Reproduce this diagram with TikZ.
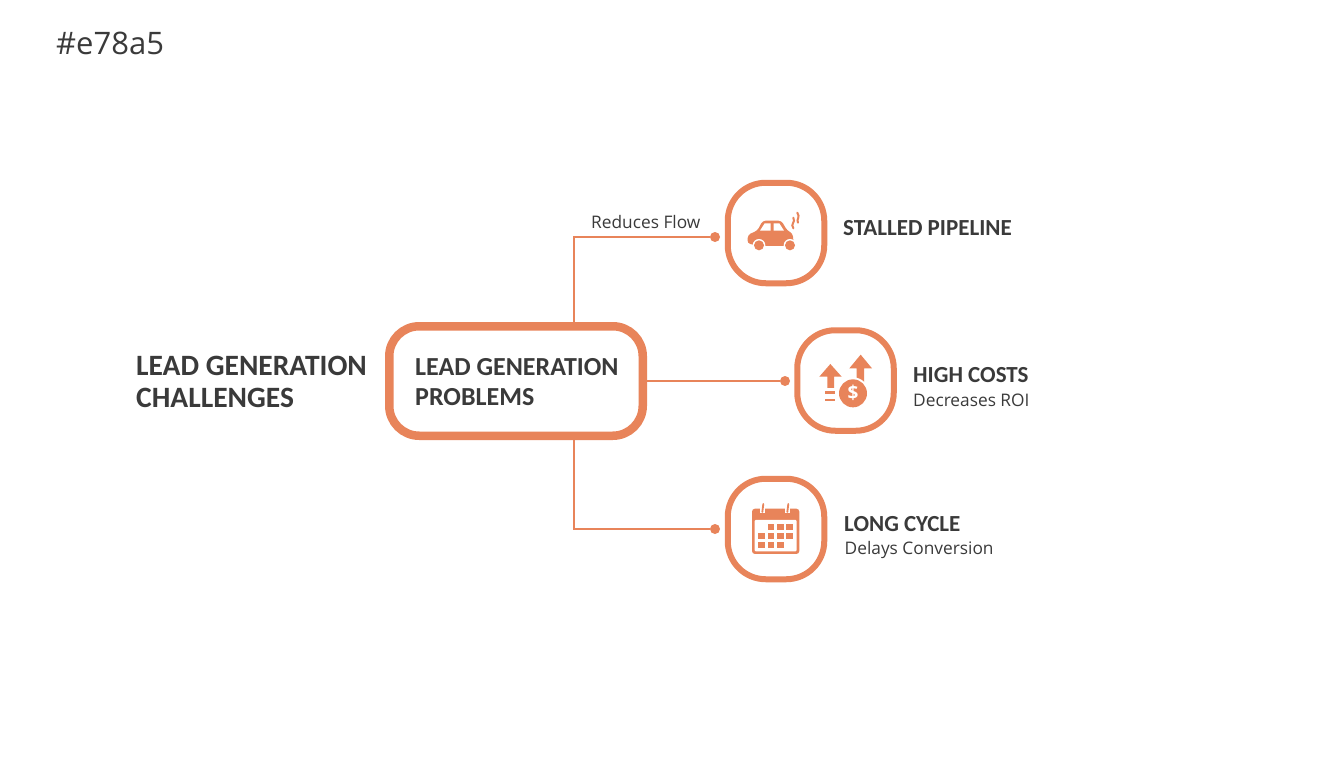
\documentclass[tikz,border=0pt]{standalone}
\usepackage{fontspec}
\setmainfont{Open Sans}
\newfontfamily\boldC{Carlito Bold}
\definecolor{acc}{HTML}{E8845A}
\definecolor{ink}{HTML}{3A3A3A}
\tikzset{
  x=1pt,y=-1pt,
  mainbox/.style={draw=acc,line width=8.5pt,rounded corners=30pt,minimum width=253.5pt,minimum height=109.5pt,fill=white},
  iconbox/.style={draw=acc,line width=6pt,rounded corners=38pt,minimum width=96.5pt,minimum height=100.5pt,fill=white},
  conn/.style={draw=acc,line width=2.6pt},
  enddot/.style={circle,fill=acc,inner sep=0pt,minimum size=10pt},
  head/.style={text=ink,font=\boldC\fontsize{29.5}{32}\selectfont,anchor=west,align=left,inner sep=0pt},
  headm/.style={text=ink,font=\boldC\fontsize{26}{30}\selectfont,anchor=west,align=left,inner sep=0pt},
  title/.style={text=ink,font=\boldC\fontsize{23}{24}\selectfont,anchor=west,inner sep=0pt},
  sub/.style={text=ink,font=\fontsize{17.3}{21}\selectfont,anchor=west,inner sep=0pt},
  ico/.style={x=0.3333pt,y=-0.3333pt},
}
\begin{document}
\begin{tikzpicture}
\useasboundingbox (0,0) rectangle (1344,768);
\fill[white] (0,0) rectangle (1344,768);
\node[text=ink,font=\fontsize{31}{38}\selectfont,anchor=west,inner sep=0pt] (code) at (56,43) {\#e78a5};

\coordinate (jx) at (574,381);
\node[enddot] (d1) at (715,237) {};
\node[enddot] (d2) at (785,381) {};
\node[enddot] (d3) at (715,529) {};
\node[mainbox] (main) at (516,381) {};
\draw[conn] (main.north -| jx) |- (d1);
\draw[conn] (main.east) -- (d2);
\draw[conn] (main.south -| jx) |- (d3);

\node[iconbox] (b1) at (776,233) {};
\node[iconbox] (b2) at (845.5,380.5) {};
\node[iconbox] (b3) at (776,529) {};

\node[head] (lh) at (136,382) {LEAD GENERATION\\CHALLENGES};
\node[headm] (mt) at (415,382) {LEAD GENERATION\\PROBLEMS};
\node[sub] (rf) at (591,222) {Reduces Flow};
\node[title] (t1) at (843,228) {STALLED PIPELINE};
\node[title] (t2) at (913,375) {HIGH COSTS};
\node[sub] (s2) at (913,400) {Decreases ROI};
\node[title] (t3) at (844,524) {LONG CYCLE};
\node[sub] (s3) at (844.5,550.5) {Delays Conversion};

% car
\begin{scope}[shift={(710,170)},ico]
\fill[acc,rounded corners=3pt] (112,220) -- (114,194) -- (142,182) -- (158,152) -- (214,152) -- (232,182) -- (248,190) -- (251,220) -- (240,228) -- (147,228) -- cycle;
\fill[white] (150,182) -- (164,160) -- (182,160) -- (182,182) -- cycle;
\fill[white] (191,160) -- (208,160) -- (222,182) -- (191,182) -- cycle;
\fill[white] (147,226) circle (19);
\fill[white] (240,226) circle (19);
\fill[acc] (147,226) circle (15);
\fill[acc] (240,226) circle (15);
\draw[acc,line width=2pt,line cap=round] (250,175) .. controls (240,160) and (258,158) .. (250,143);
\draw[acc,line width=2pt,line cap=round] (264,158) .. controls (258,148) and (272,142) .. (262,128);
\end{scope}

% costs
\begin{scope}[shift={(780,320)},ico]
\fill[acc] (151,132) -- (185,170) -- (162,170) -- (162,204) -- (142,204) -- (142,170) -- (118,170) -- cycle;
\fill[acc] (242,104) -- (276,145) -- (252,145) -- (252,190) -- (230,190) -- (230,145) -- (208,145) -- cycle;
\fill[white] (219,220) circle (48);
\fill[acc] (219,220) circle (42);
\node[text=white,font=\bfseries\fontsize{19}{20}\selectfont,inner sep=0pt] (dollar) at (219,220) {\$};
\fill[acc] (134,214) rectangle (165,222);
\fill[acc] (134,236) rectangle (165,244);
\end{scope}

% calendar
\begin{scope}[shift={(710,468)},ico]
\fill[acc,rounded corners=3pt] (126,122) rectangle (268,258);
\fill[white,rounded corners=1pt] (134,156) rectangle (260,250);
\foreach \c/\r in {173/167,201/167,229/167,145/194,173/194,201/194,229/194,145/221,173/221,201/221}
  \fill[acc] (\c,\r) rectangle ++(20,18);
\draw[white,line width=5pt] (158,106) -- (158,134);
\draw[white,line width=5pt] (232,106) -- (232,134);
\draw[acc,line width=1.8pt,line cap=round] (160,108) -- (157,132);
\draw[acc,line width=1.8pt,line cap=round] (235,108) -- (232,132);
\end{scope}
\end{tikzpicture}
\end{document}
